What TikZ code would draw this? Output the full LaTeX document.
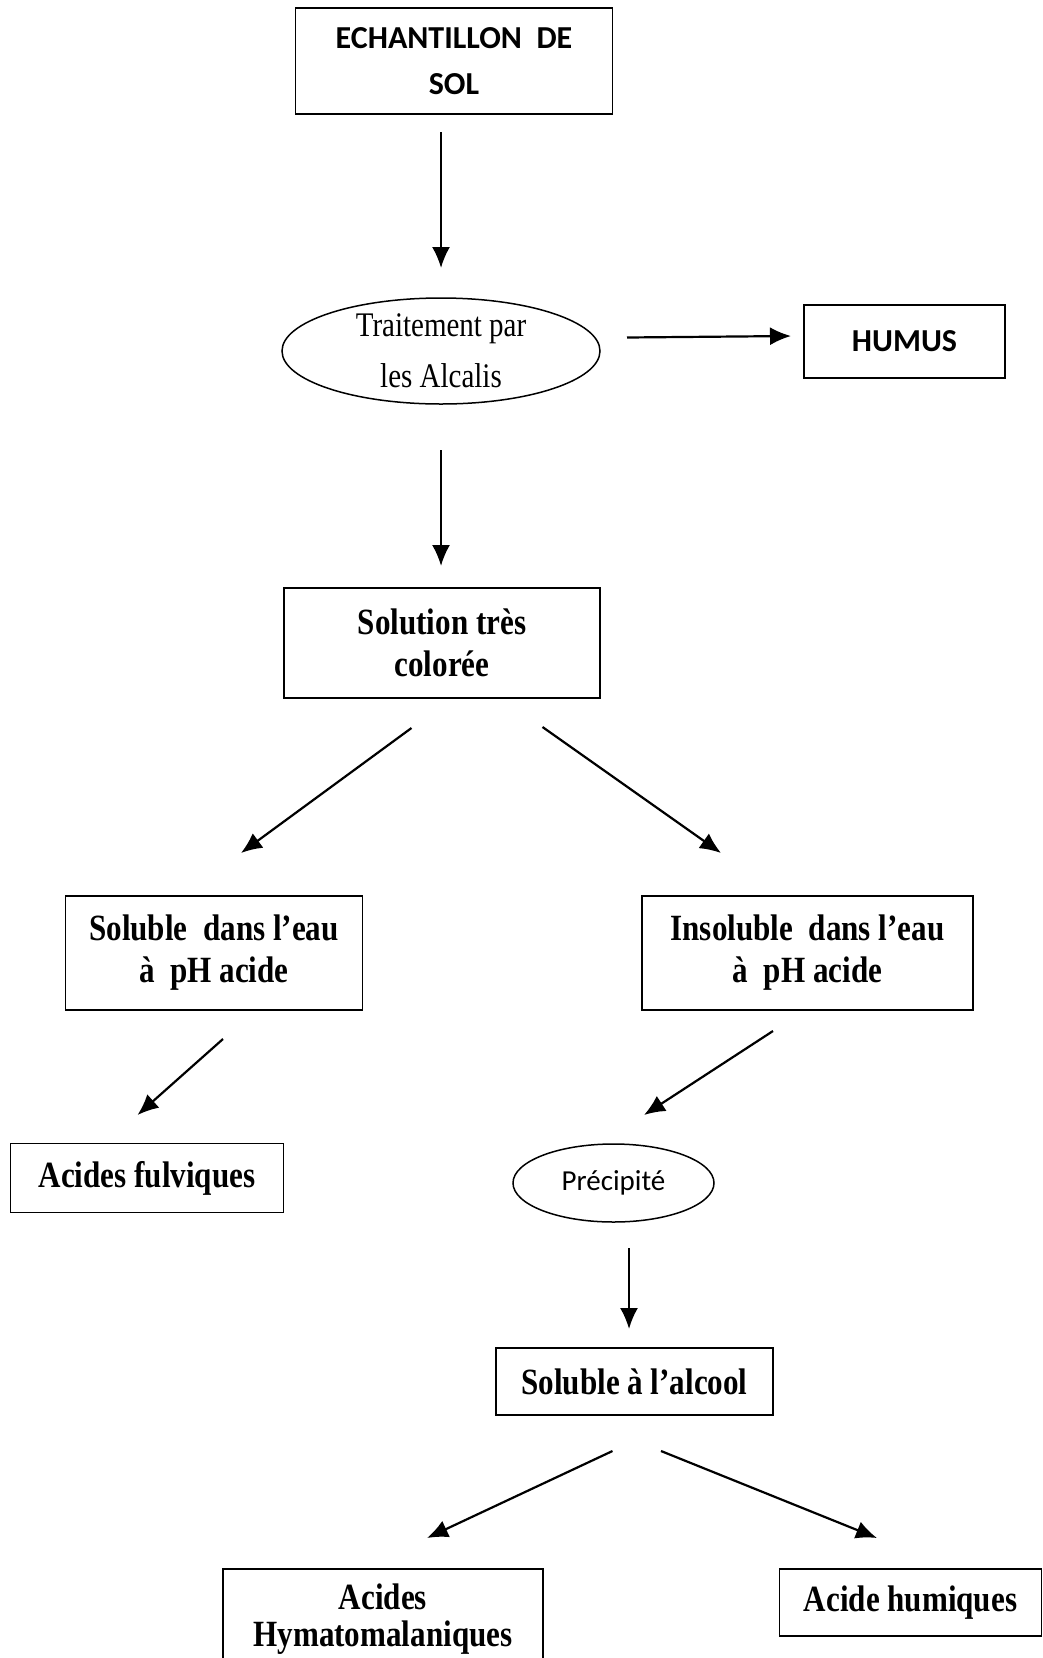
\documentclass[tikz,border=0pt]{standalone}
\usepackage{fontspec}
\setmainfont{Liberation Serif}
\newfontfamily\serifcond[FakeStretch=0.84]{Liberation Serif}
\newfontfamily\calib{Carlito}
\usetikzlibrary{arrows.meta,shapes.geometric}
\tikzset{
  boxnode/.style={draw, line width=1.6pt, inner sep=0pt, align=center},
  ellnode/.style={draw, ellipse, line width=1.5pt, inner sep=0pt, align=center},
  sansbold/.style={font=\calib\bfseries\fontsize{32}{45.5}\selectfont},
  sansreg/.style={font=\calib\fontsize{29}{36}\selectfont},
  serifreg/.style={font=\serifcond\fontsize{34.5}{51}\selectfont},
  serifbold/.style={font=\serifcond\bfseries\fontsize{37}{42}\selectfont},
  arr/.style={line width=2.2pt, -{Latex[length=21pt,width=18pt]}}
}
\begin{document}
\begin{tikzpicture}[x=1pt,y=-1pt]
\path[use as bounding box, clip] (0,0) rectangle (1043,1658);
\fill[white] (0,0) rectangle (1043,1658);

\node[boxnode, sansbold, minimum width=317pt, minimum height=105.5pt] (ech) at (454,61) {ECHANTILLON\ \ DE\\SOL};
\node[ellnode, serifreg, minimum width=318pt, minimum height=106pt] (trt) at (441,351) {Traitement par\\les Alcalis};
\node[boxnode, sansbold, minimum width=201pt, minimum height=73pt] (hum) at (904.5,341.5) {HUMUS};
\node[boxnode, serifbold, minimum width=316.5pt, minimum height=110pt] (sol) at (442,643) {Solution très\\colorée};
\node[boxnode, serifbold, minimum width=297pt, minimum height=114pt] (seau) at (214,953) {Soluble\ \ dans l’eau\\à\ \ pH acide};
\node[boxnode, serifbold, minimum width=331pt, minimum height=114pt] (ieau) at (807.5,953) {Insoluble\ \ dans l’eau\\à\ \ pH acide};
\node[boxnode, serifbold, minimum width=273pt, minimum height=69pt] (ful) at (147,1178) {Acides fulviques};
\node[ellnode, sansreg, minimum width=201pt, minimum height=78pt] (pre) at (613.5,1183) {Précipité};
\node[boxnode, serifbold, minimum width=277pt, minimum height=67pt] (alc) at (634.5,1381.5) {Soluble à l’alcool};
\node[align=center, inner sep=0pt, minimum width=319.5pt, minimum height=100pt, font=\serifcond\bfseries\fontsize{37}{37}\selectfont] (hym) at (383,1619) {Acides\\Hymatomalaniques};
\draw[line width=1.6pt] (hym.south west) -- (hym.north west) -- (hym.north east) -- (hym.south east);
\node[boxnode, serifbold, minimum width=262pt, minimum height=67pt] (hac) at (910.5,1602.5) {Acide humiques};

% arrow end points
\coordinate (a1s) at (441,132);   \coordinate (a1e) at (441,268);
\coordinate (a2s) at (627,337.5); \coordinate (a2e) at (791,336);
\coordinate (a3s) at (441,450);   \coordinate (a3e) at (441,566);
\coordinate (a4s) at (411.5,728); \coordinate (a4e) at (241,853);
\coordinate (a5s) at (542.5,727); \coordinate (a5e) at (721,853);
\coordinate (a6s) at (223,1039);  \coordinate (a6e) at (137.5,1115);
\coordinate (a7s) at (773,1031);  \coordinate (a7e) at (644,1115);
\coordinate (a8s) at (629,1248);  \coordinate (a8e) at (629,1329);
\coordinate (a9s) at (612.5,1451);\coordinate (a9e) at (427,1538);
\coordinate (a10s) at (661,1451); \coordinate (a10e) at (877,1538);

\draw[arr] (a1s) -- (a1e);
\draw[arr] (a2s) -- (a2e);
\draw[arr] (a3s) -- (a3e);
\draw[arr] (a4s) -- (a4e);
\draw[arr] (a5s) -- (a5e);
\draw[arr] (a6s) -- (a6e);
\draw[arr] (a7s) -- (a7e);
\draw[arr] (a8s) -- (a8e);
\draw[arr] (a9s) -- (a9e);
\draw[arr] (a10s) -- (a10e);
\end{tikzpicture}
\end{document}
